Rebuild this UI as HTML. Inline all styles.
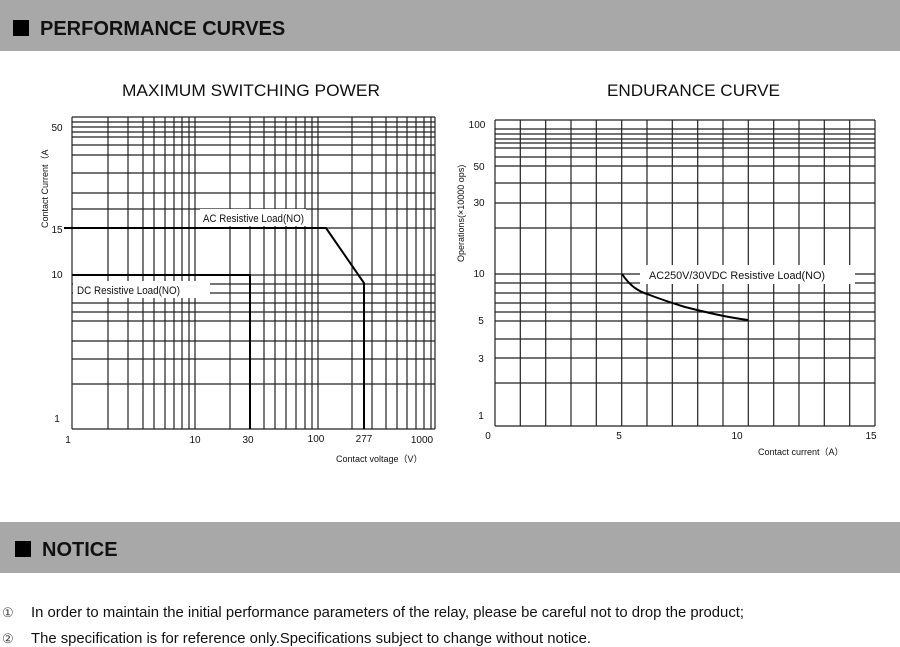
<!DOCTYPE html>
<html><head><meta charset="utf-8"><style>
html,body{margin:0;padding:0;background:#fff;width:900px;height:647px;overflow:hidden}
svg{display:block}
text{font-family:"Liberation Sans",sans-serif}
</style></head><body>
<svg width="900" height="647" viewBox="0 0 900 647" xmlns="http://www.w3.org/2000/svg">
<rect x="0" y="0" width="900" height="51" fill="#a8a8a8"/>
<rect x="13" y="20" width="16" height="16" fill="#000"/>
<text x="40" y="35" font-size="20" font-weight="bold" fill="#111">PERFORMANCE CURVES</text>
<rect x="0" y="522" width="900" height="51" fill="#a8a8a8"/>
<rect x="15" y="541" width="16" height="16" fill="#000"/>
<text x="42" y="556" font-size="20" font-weight="bold" fill="#111">NOTICE</text>

<text x="122" y="96" font-size="17" textLength="258" lengthAdjust="spacingAndGlyphs" fill="#111">MAXIMUM SWITCHING POWER</text>
<text x="607" y="96" font-size="17" textLength="173" lengthAdjust="spacingAndGlyphs" fill="#111">ENDURANCE CURVE</text>

<!-- Left chart grid -->
<g stroke="#222" stroke-width="1.2" fill="none">
<path d="M72 117V429M108 117V429M128 117V429M143 117V429M154 117V429M165 117V429M174 117V429M182 117V429M189 117V429M195 117V429M230 117V429M250 117V429M264 117V429M275 117V429M286 117V429M296 117V429M305 117V429M312 117V429M318 117V429M352 117V429M372 117V429M386 117V429M397 117V429M407 117V429M416 117V429M424 117V429M431 117V429M435 117V429"/>
<path d="M72 117H435M72 122H435M72 127H435M72 132H435M72 137H435M72 145H435M72 155H435M72 173H435M72 193H435M72 209H435M64 228H435M72 275H435M72 284H435M72 293H435M72 303H435M72 312H435M72 321H435M72 341H435M72 359H435M72 384H435M72 429H435"/>
</g>
<rect x="73" y="281" width="137" height="17" fill="#fff"/>
<rect x="200" y="209" width="106" height="17" fill="#fff"/>
<g stroke="#000" stroke-width="2" fill="none">
<path d="M64 228H326L364 283V429"/>
<path d="M72 275H250V429"/>
</g>
<text x="203" y="222" font-size="11" textLength="101" lengthAdjust="spacingAndGlyphs" fill="#111">AC Resistive Load(NO)</text>
<text x="77" y="294" font-size="11" textLength="103" lengthAdjust="spacingAndGlyphs" fill="#111">DC Resistive Load(NO)</text>
<g font-size="10" fill="#111" text-anchor="middle">
<text x="57" y="131">50</text><text x="57" y="233">15</text><text x="57" y="278">10</text><text x="57" y="422">1</text>
<text x="68" y="443">1</text><text x="195" y="443">10</text><text x="248" y="443">30</text><text x="316" y="442">100</text><text x="364" y="442">277</text><text x="422" y="443">1000</text>
</g>
<text x="336" y="462" font-size="9" fill="#111">Contact voltage（V）</text>
<text transform="translate(48,228) rotate(-90)" font-size="9" fill="#111">Contact Current（A</text>

<!-- Right chart grid -->
<g stroke="#222" stroke-width="1.2" fill="none">
<path d="M495 120V426M520.3 120V426M545.7 120V426M571 120V426M596.3 120V426M621.7 120V426M647 120V426M672.3 120V426M697.7 120V426M723 120V426M748.3 120V426M773.7 120V426M799 120V426M824.3 120V426M849.7 120V426M875 120V426"/>
<path d="M495 120H875M495 129H875M495 134H875M495 139H875M495 143H875M495 148H875M495 157H875M495 166H875M495 183H875M495 203H875M495 228H875M495 274H875M495 283H875M495 293H875M495 303H875M495 312H875M495 321H875M495 339H875M495 358H875M495 383H875M495 426H875"/>
</g>
<rect x="640" y="265" width="215" height="19" fill="#fff"/>
<path d="M622 274 C630 286 638 291 647 294 C660 299 672 303 685 307 C705 312 725 317 748 320" stroke="#000" stroke-width="2" fill="none"/>
<text x="649" y="279" font-size="11" textLength="176" lengthAdjust="spacingAndGlyphs" fill="#111">AC250V/30VDC  Resistive Load(NO)</text>
<g font-size="10" fill="#111" text-anchor="middle">
<text x="477" y="128">100</text><text x="479" y="170">50</text><text x="479" y="206">30</text><text x="479" y="277">10</text><text x="481" y="324">5</text><text x="481" y="362">3</text><text x="481" y="419">1</text>
<text x="488" y="439">0</text><text x="619" y="439">5</text><text x="737" y="439">10</text><text x="871" y="439">15</text>
</g>
<text x="758" y="455" font-size="9" fill="#111">Contact current（A）</text>
<text transform="translate(464,262) rotate(-90)" font-size="9" fill="#111">Operations(×10000 ops)</text>

<g font-size="15" fill="#111">
<text x="2" y="617" font-size="13" fill="#444">①</text>
<text x="31" y="617" textLength="713" lengthAdjust="spacingAndGlyphs">In order to maintain the initial performance parameters of the relay, please be careful not to drop the product;</text>
<text x="2" y="643" font-size="13" fill="#444">②</text>
<text x="31" y="643" textLength="560" lengthAdjust="spacingAndGlyphs">The specification is for reference only.Specifications subject to change without notice.</text>
</g>
</svg>
</body></html>
